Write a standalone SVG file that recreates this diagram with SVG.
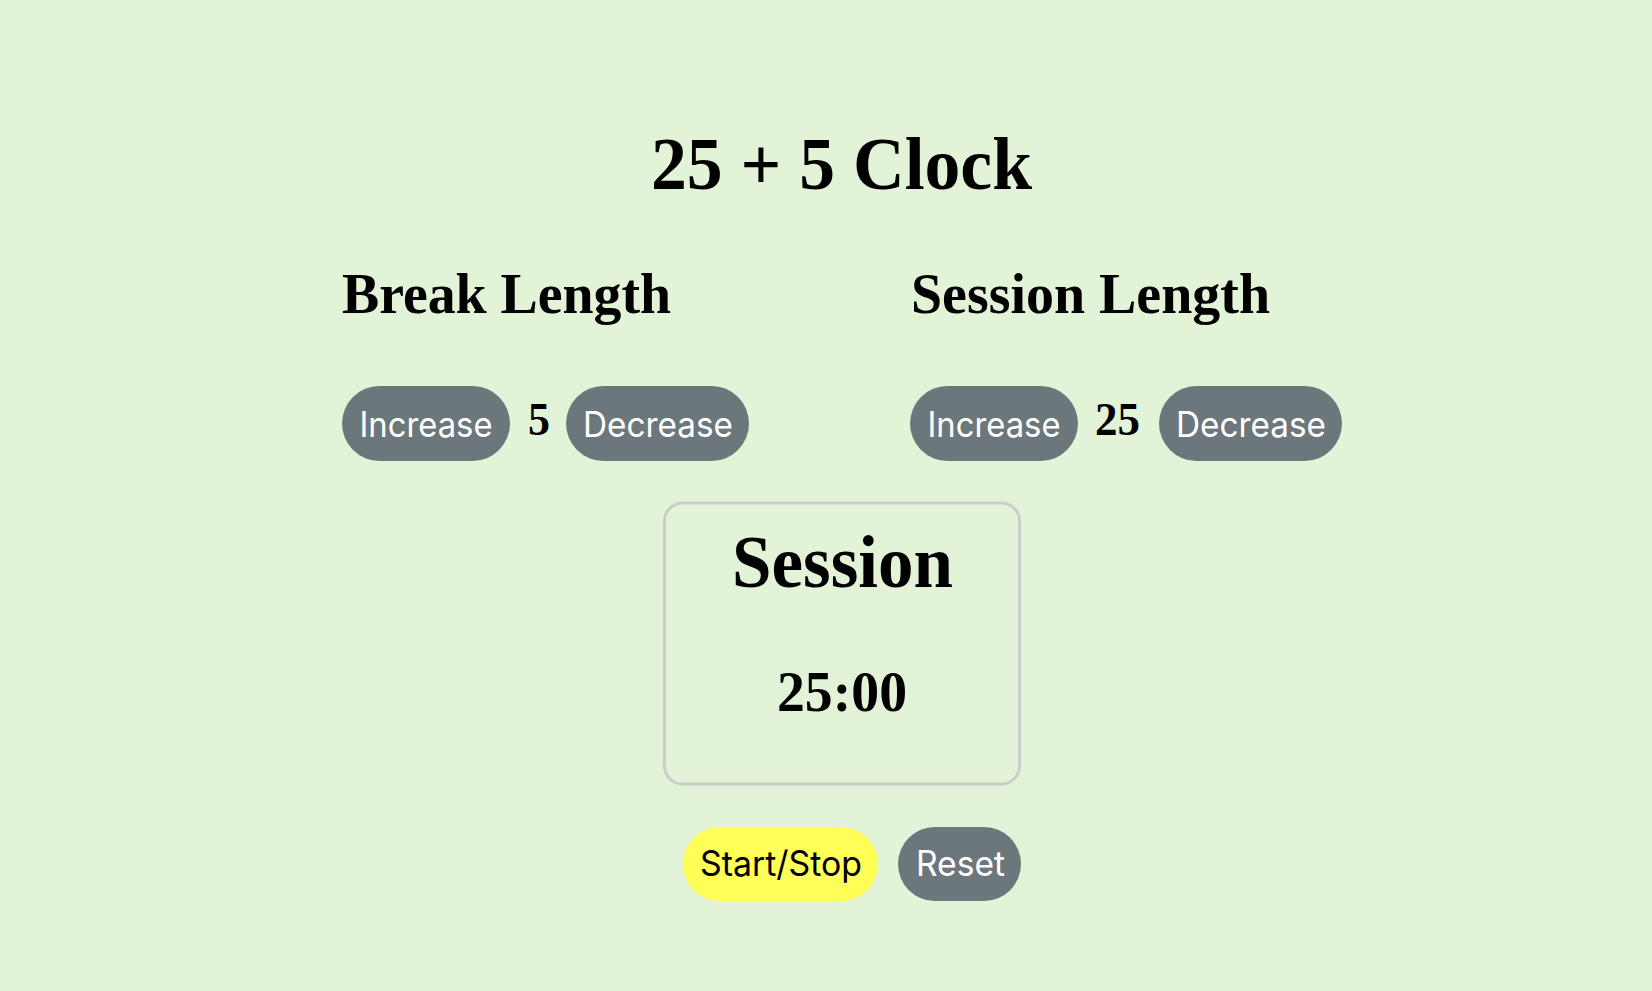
<svg xmlns="http://www.w3.org/2000/svg" width="1652" height="991" viewBox="0 0 1652 991">
<style>
.serif{font-family:"Liberation Serif","Times New Roman",serif;font-weight:bold;fill:#000}
.btn{fill:#6c777c}
.bt{font-family:"Inter","Liberation Sans",Arial,sans-serif;font-size:35px;fill:#fff}
</style>
<rect x="0" y="0" width="1652" height="991" fill="#e2f3d8"/>
<g id="title"><text class="serif" x="651" y="189" font-size="73" textLength="381" lengthAdjust="spacingAndGlyphs">25 + 5 Clock</text></g>
<g id="break-label"><text class="serif" x="342" y="313" font-size="56" textLength="329" lengthAdjust="spacingAndGlyphs">Break Length</text></g>
<g id="session-label"><text class="serif" x="911" y="313" font-size="56" textLength="359" lengthAdjust="spacingAndGlyphs">Session Length</text></g>
<g id="break-increment"><rect class="btn" x="342" y="386" width="168" height="75" rx="37.5"/><text class="bt" x="359.5" y="436.5" textLength="133" lengthAdjust="spacingAndGlyphs">Increase</text></g>
<g id="break-length"><text class="serif" x="528" y="435" font-size="47" textLength="22" lengthAdjust="spacingAndGlyphs">5</text></g>
<g id="break-decrement"><rect class="btn" x="566" y="386" width="183" height="75" rx="37.5"/><text class="bt" x="583" y="436.5" textLength="150" lengthAdjust="spacingAndGlyphs">Decrease</text></g>
<g id="session-increment"><rect class="btn" x="910" y="386" width="168" height="75" rx="37.5"/><text class="bt" x="927.5" y="436.5" textLength="133" lengthAdjust="spacingAndGlyphs">Increase</text></g>
<g id="session-length"><text class="serif" x="1095" y="435" font-size="47" textLength="45" lengthAdjust="spacingAndGlyphs">25</text></g>
<g id="session-decrement"><rect class="btn" x="1159" y="386" width="183" height="75" rx="37.5"/><text class="bt" x="1176" y="436.5" textLength="150" lengthAdjust="spacingAndGlyphs">Decrease</text></g>
<g id="timer">
<rect x="664.5" y="503" width="355" height="281" rx="18" fill="none" stroke="#cccccc" stroke-width="3"/>
<text class="serif" x="732" y="587" font-size="75" textLength="221" lengthAdjust="spacingAndGlyphs">Session</text>
<text class="serif" x="777" y="711" font-size="57" textLength="130" lengthAdjust="spacingAndGlyphs">25:00</text>
</g>
<g id="start-stop"><rect x="683" y="827" width="195" height="74" rx="37" fill="#ffff57"/><text class="bt" x="700" y="876" textLength="162" lengthAdjust="spacingAndGlyphs" style="fill:#000">Start/Stop</text></g>
<g id="reset"><rect class="btn" x="898" y="827" width="123" height="74" rx="37"/><text class="bt" x="916" y="876" textLength="89" lengthAdjust="spacingAndGlyphs">Reset</text></g>
<g id="connectors"></g>
</svg>
